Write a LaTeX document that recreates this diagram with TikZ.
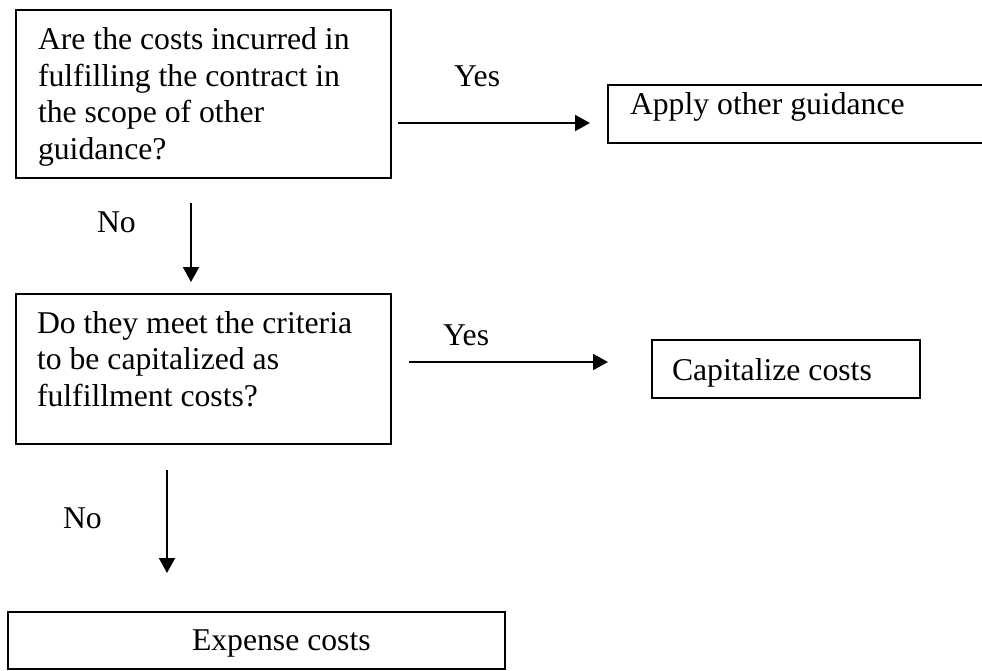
\documentclass[tikz,border=0pt]{standalone}
\usepackage{fontspec}
\setmainfont{Liberation Serif}
\usetikzlibrary{arrows.meta,calc}

\tikzset{
  every node/.style={font=\fontsize{31.7}{36.5}\selectfont, outer sep=0pt},
  box/.style={draw, line width=1.8pt, rectangle, anchor=north west, inner ysep=0pt},
  tag/.style={anchor=base west, inner sep=0pt},
  flow/.style={line width=2pt, -{Triangle[length=15pt,width=16pt]}}
}

\begin{document}
\begin{tikzpicture}[x=1pt, y=-1pt]
  \useasboundingbox (0,0) rectangle (982,671);

  % decision boxes (text set from the top, first baseline fixed by text height)
  \node[box, inner xsep=22pt, text height=40pt, text depth=128pt] (q1) at (16,10)
    {\parbox[t]{331pt}{Are the costs incurred in\\fulfilling the contract in\\the scope of other\\guidance?}};
  \node[box, inner xsep=21pt, text height=39pt, text depth=111pt] (q2) at (16,294)
    {\parbox[t]{333pt}{Do they meet the criteria\\to be capitalized as\\fulfillment costs?}};

  % outcome boxes
  \node[box, inner xsep=22pt, text height=30pt, text depth=28pt] (apply) at (608,85)
    {\parbox[t]{360pt}{Apply other guidance}};
  \node[box, inner xsep=20pt, text height=40pt, text depth=18pt] (cap) at (652,340)
    {\parbox[t]{228pt}{Capitalize costs}};
  \node[box, inner xsep=0pt, text height=38pt, text depth=19pt] (exp) at (8,612)
    {\makebox[497pt][l]{\hspace*{184pt}Expense costs}};

  % connectors
  \draw[flow] ($(q1.north east)+(7,113)$) -- ($(apply.north west)+(-18,38)$);
  \draw[flow] ($(q1.south west)+(175,25)$) -- ($(q2.north west)+(175,-12)$);
  \draw[flow] ($(q2.north east)+(18,68)$) -- ($(cap.north west)+(-44,22)$);
  \draw[flow] ($(q2.south west)+(151,26)$) -- ($(exp.north west)+(159,-39)$);

  % branch labels
  \node[tag] (yes1) at (454,87) {Yes};
  \node[tag] (no1) at (97,233) {No};
  \node[tag] (yes2) at (443,345) {Yes};
  \node[tag] (no2) at (63,528) {No};
\end{tikzpicture}
\end{document}
